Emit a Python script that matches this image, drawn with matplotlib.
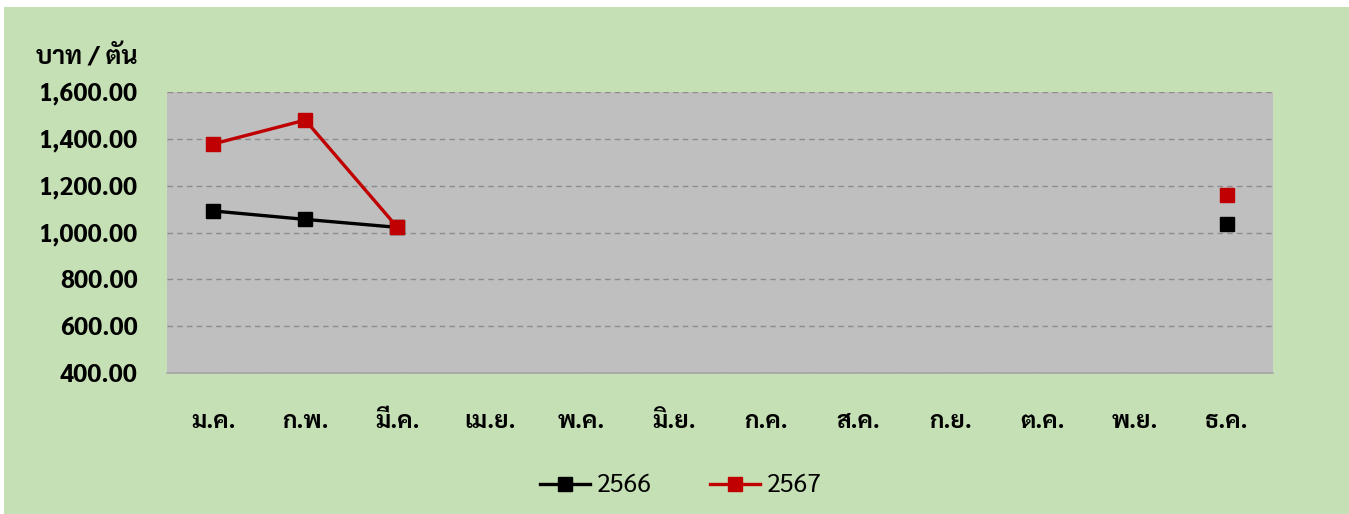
import matplotlib
matplotlib.use('Agg')
import numpy as np
import matplotlib.pyplot as plt
from matplotlib.patches import Rectangle
from matplotlib.ticker import FuncFormatter

months = ['ม.ค.', 'ก.พ.', 'มี.ค.', 'เม.ย.', 'พ.ค.', 'มิ.ย.',
          'ก.ค.', 'ส.ค.', 'ก.ย.', 'ต.ค.', 'พ.ย.', 'ธ.ค.']
# ราคา บาท/ตัน (เดือนที่ไม่มีข้อมูล = nan)
price_2566 = [1092, 1056, 1022, np.nan, np.nan, np.nan,
              np.nan, np.nan, np.nan, np.nan, np.nan, 1036]
price_2567 = [1378, 1480, 1022, np.nan, np.nan, np.nan,
              np.nan, np.nan, np.nan, np.nan, np.nan, 1160]
series_names = ['2566', '2567']
y_ticks = [400, 600, 800, 1000, 1200, 1400, 1600]

plt.rcParams['font.family'] = ['Sarabun', 'Noto Sans Thai UI', 'DejaVu Sans']

fig = plt.figure(figsize=(13.49, 5.14), dpi=100)
fig.patch.set_facecolor('white')
fig.patches.append(Rectangle((4 / 1349, 0), 1, 1 - 7 / 514, transform=fig.transFigure,
                             facecolor='#C5E0B4', edgecolor='none', zorder=-1))

ax = fig.add_axes([167 / 1349, 1 - 373 / 514, (1273 - 167) / 1349, (373 - 92) / 514])
ax.set_facecolor('#BFBFBF')

x = np.arange(len(months))
ax.plot(x, price_2566, color='black', lw=2.4, marker='s', ms=10, label=series_names[0], zorder=3)
ax.plot(x, price_2567, color='#C00000', lw=2.4, marker='s', ms=10, label=series_names[1], zorder=3)

ax.set_xlim(-0.5, 11.5)
ax.set_ylim(400, 1600)
ax.set_xticks(x)
ax.set_xticklabels(months, fontsize=17.5, fontweight='bold')
ax.set_yticks(y_ticks)
ax.yaxis.set_major_formatter(FuncFormatter(lambda v, p: '{:,.2f}'.format(v)))
for lab in ax.get_yticklabels():
    lab.set_fontsize(18)
    lab.set_fontweight('bold')
ax.tick_params(axis='x', length=0, pad=27)
ax.tick_params(axis='y', length=0, pad=21)

ax.grid(axis='y', color='#8C8C8C', linestyle=(0, (4, 3)), lw=1)
ax.set_axisbelow(True)
for s in ['top', 'right', 'left']:
    ax.spines[s].set_visible(False)
ax.spines['bottom'].set_color('#A6A6A6')
ax.spines['bottom'].set_linewidth(1.2)

fig.text(36 / 1349, 1 - 58 / 514, 'บาท / ตัน', fontsize=18, fontweight='bold',
         ha='left', va='center')

fig.legend(loc='center', bbox_to_anchor=(681 / 1349, 1 - 486 / 514), ncol=2, frameon=False,
           fontsize=18, handlelength=2.0, columnspacing=2.3, handletextpad=0.3)

fig.savefig('out.png', dpi=100, facecolor=fig.get_facecolor())
